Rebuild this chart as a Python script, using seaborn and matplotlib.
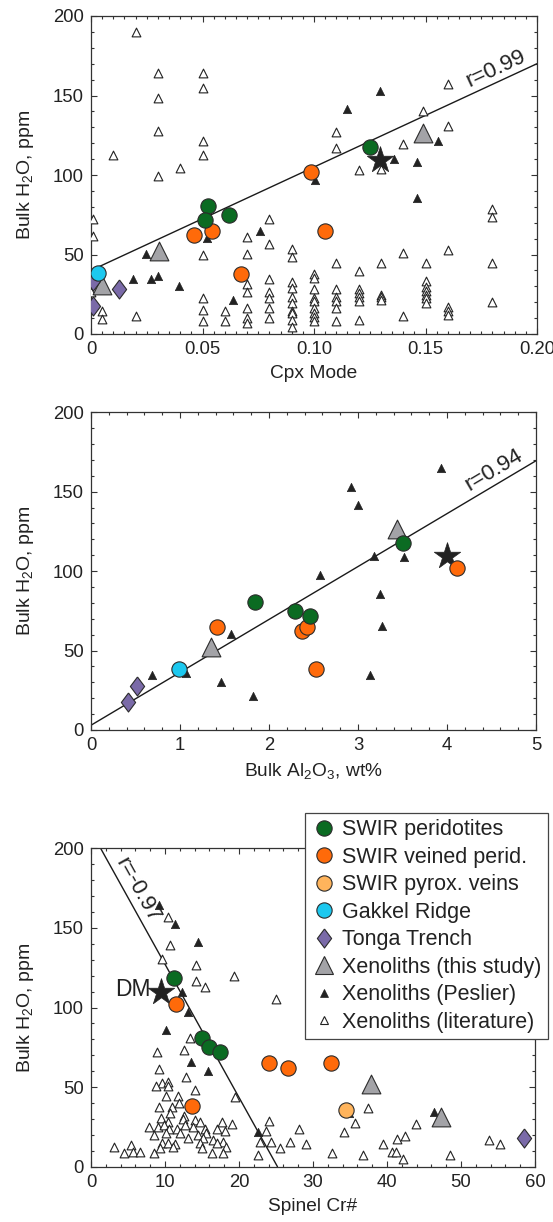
import matplotlib
matplotlib.use("Agg")
import matplotlib.pyplot as plt
from matplotlib.lines import Line2D
from matplotlib.ticker import MultipleLocator
import seaborn as sns

# ---- colours ----
GREEN = "#0b6b22"
ORANGE = "#ff6a0a"
LIGHT_ORANGE = "#ffb45c"
CYAN = "#1cc8ef"
PURPLE = "#7a6aa8"
GRAY = "#a3a3a7"
DARK = "#222222"
EDGE = "#2b2b2b"

# ================= Panel 1: Cpx mode =================
cpx_peridotite = [0.0523, 0.0618, 0.0511, 0.1253]
h2o_cpx_peridotite = [80.7, 75.0, 71.9, 117.8]
cpx_veined = [0.0542, 0.0464, 0.0673, 0.1051, 0.0986]
h2o_cpx_veined = [65.0, 62.3, 37.7, 65.0, 102.0]
cpx_gakkel = [0.003]
h2o_cpx_gakkel = [38.6]
cpx_tonga = [0.001, 0.0127, 0.0008]
h2o_cpx_tonga = [33.5, 28.1, 17.6]
cpx_thisstudy = [0.0306, 0.0048, 0.149]
h2o_cpx_thisstudy = [52.2, 30.8, 126.2]
cpx_dm = [0.1295]
h2o_cpx_dm = [109.4]
cpx_peslier = [0.1295, 0.1147, 0.1357, 0.1556, 0.146, 0.1004, 0.146, 0.0518,
               0.0757, 0.0246, 0.0187, 0.0267, 0.030, 0.0394, 0.0638]
h2o_cpx_peslier = [152.8, 141.5, 109.9, 121.6, 108.4, 96.9, 85.3, 60.2,
                   65.0, 50.3, 34.6, 34.6, 36.3, 30.2, 21.4]
cpx_lit = [0.02, 0.03, 0.05, 0.05, 0.03, 0.03, 0.05, 0.01, 0.05, 0.04, 0.03,
           0.16, 0.149, 0.16, 0.11, 0.11, 0.12, 0.14, 0.13,
           0.0007, 0.001, 0.05, 0.07, 0.07, 0.08, 0.08, 0.09, 0.09, 0.0, 0.005,
           0.005, 0.02, 0.05, 0.05, 0.05, 0.06, 0.06, 0.07, 0.07, 0.07, 0.07,
           0.07, 0.08, 0.08, 0.08, 0.08, 0.08,
           0.09, 0.09, 0.09, 0.09, 0.09, 0.09, 0.09, 0.09,
           0.10, 0.10, 0.10, 0.10, 0.10, 0.10, 0.10, 0.10, 0.10,
           0.11, 0.11, 0.11, 0.11, 0.11, 0.11,
           0.12, 0.12, 0.12, 0.12, 0.12, 0.12,
           0.13, 0.13, 0.13, 0.13,
           0.14, 0.14,
           0.15, 0.15, 0.15, 0.15, 0.15, 0.15, 0.15,
           0.16, 0.16, 0.16, 0.16,
           0.18, 0.18, 0.18, 0.18]
h2o_cpx_lit = [190, 164, 164, 154.5, 148.6, 127.7, 121.4, 112.6, 112.6, 104.6, 99.6,
               157, 140, 131, 127, 117, 103, 119.5, 104,
               72.3, 61.6, 49.5, 61.2, 50.3, 72.3, 56.4, 53.3, 48.2, 26.2, 14.5,
               9.4, 11.5, 22.4, 15.1, 8.4, 14.5, 8.4, 31.4, 26.2, 16.1, 9.9,
               6.8, 34.6, 26.4, 22.8, 16.1, 9.9,
               32.9, 28.7, 23.1, 19.3, 14.5, 13.0, 8.8, 4.6,
               37.5, 35.0, 28.3, 22.4, 20.8, 16.5, 13.4, 10.9, 8.2,
               44.5, 28.3, 23.5, 21.0, 16.5, 8.4,
               39.6, 28.3, 25.6, 23.1, 21.0, 8.8,
               44.5, 24.5, 23.1, 21.4,
               50.7, 11.5,
               44.5, 33.3, 29.5, 27.0, 24.8, 22.7, 19.6,
               52.8, 17.2, 14.7, 12.0,
               78.4, 73.4, 44.5, 20.3]
cpx_fit = [0.0, 0.2]
h2o_cpx_fit = [40.0, 170.0]

# ================= Panel 2: Bulk Al2O3 =================
al_peridotite = [1.843, 2.287, 2.456, 3.51]
h2o_al_peridotite = [80.7, 74.9, 71.9, 117.9]
al_veined = [1.42, 2.37, 2.43, 2.527, 4.116]
h2o_al_veined = [64.6, 62.3, 64.6, 38.2, 102.1]
al_gakkel = [0.988]
h2o_al_gakkel = [38.2]
al_tonga = [0.415, 0.516]
h2o_al_tonga = [17.8, 27.9]
al_thisstudy = [1.345, 3.44]
h2o_al_thisstudy = [52.0, 126.3]
al_dm = [4.0]
h2o_al_dm = [109.5]
al_peslier = [0.68, 1.07, 1.57, 1.457, 1.818, 2.574, 2.923, 2.998, 3.93,
              3.176, 3.515, 3.248, 3.274, 3.131]
h2o_al_peslier = [34.4, 36.1, 60.4, 30.4, 21.6, 97.5, 152.7, 141.6, 164.7,
                  109.7, 108.7, 85.6, 65.4, 34.6]
al_fit = [0.0, 5.0]
h2o_al_fit = [3.0, 169.5]

# ================= Panel 3: Spinel Cr# =================
cr_peridotite = [11.26, 14.96, 15.9, 17.4]
h2o_cr_peridotite = [118.5, 80.6, 75.0, 72.0]
cr_veined = [11.5, 13.7, 24.0, 26.6, 32.4]
h2o_cr_veined = [102.4, 38.1, 65.0, 61.8, 65.3]
cr_pyrox = [34.5]
h2o_cr_pyrox = [35.6]
cr_tonga = [58.5]
h2o_cr_tonga = [18.2]
cr_thisstudy = [37.8, 47.3]
h2o_cr_thisstudy = [52.0, 31.4]
cr_dm = [9.46]
h2o_cr_dm = [110.0]
cr_peslier = [9.19, 11.35, 14.4, 12.25, 13.15, 10.2, 13.5, 15.8, 22.5, 46.3, 34.9]
h2o_cr_peslier = [164.4, 152.2, 141.3, 109.5, 97.4, 85.9, 65.6, 60.3, 21.6, 34.6, 33.5]
cr_lit = [10.36, 10.68, 9.6, 14.2, 19.3, 14.2, 15.4, 25.0, 13.4, 12.6, 8.96, 9.2,
          12.9, 9.55, 10.36, 8.78, 10.45, 14.05, 10.1, 11.7, 19.5, 11.9, 10.9, 9.2,
          10.7, 12.6, 9.46, 10.4, 12.4, 14.1,
          7.9, 9.0, 9.8, 10.6, 11.6, 12.7, 13.8, 14.7, 15.4, 17.0, 17.7, 18.1, 19.1,
          8.56, 10.2, 12.0, 13.15, 14.5, 15.6, 15.2, 16.5, 17.9, 9.55, 10.45, 11.35,
          14.7, 17.0, 9.3, 11.1, 15.0, 18.3,
          3.15, 4.5, 5.4, 5.7, 6.6, 8.5, 16.3, 17.8, 22.5,
          23.7, 22.8, 24.1, 24.3, 37.4, 35.7, 43.9, 28.1, 34.2, 42.4, 41.4, 53.8,
          55.3, 25.6, 26.9, 29.1, 39.4, 32.6, 36.7, 40.7, 41.2, 42.2, 48.5]
h2o_cr_lit = [156.6, 139.3, 130.5, 126.7, 120.0, 116.8, 112.9, 105.5, 80.6, 73.3, 72.2, 61.2,
              56.5, 52.8, 53.4, 50.7, 50.7, 48.2, 44.4, 44.4, 44.0, 39.8, 37.3, 37.3,
              33.5, 31.8, 30.4, 28.3, 29.8, 29.3,
              24.7, 24.7, 26.2, 23.5, 23.5, 26.2, 24.7, 28.3, 23.5, 23.5, 28.3, 22.6, 26.6,
              19.9, 21.4, 21.4, 17.8, 19.9, 21.4, 17.8, 16.8, 15.7, 14.7, 14.7, 14.3,
              14.7, 15.1, 11.9, 12.6, 11.6, 12.2,
              12.6, 8.4, 13.6, 9.4, 9.4, 8.4, 8.4, 8.4, 7.3,
              22.6, 15.7, 28.9, 15.7, 36.7, 27.6, 26.6, 23.7, 21.8, 19.5, 17.4, 16.8,
              14.3, 11.9, 15.3, 14.3, 14.3, 8.4, 7.3, 9.4, 9.4, 4.6, 7.3]
cr_fit = [1.3, 25.2]
h2o_cr_fit = [200.0, 0.0]

legend_labels = ["SWIR peridotites", "SWIR veined perid.", "SWIR pyrox. veins",
                 "Gakkel Ridge", "Tonga Trench", "Xenoliths (this study)",
                 "Xenoliths (Peslier)", "Xenoliths (literature)"]

# ---- style ----
sns.set_style("ticks")
plt.rcParams["font.family"] = ["Liberation Sans", "DejaVu Sans"]
plt.rcParams["mathtext.default"] = "regular"
plt.rcParams["font.size"] = 13
plt.rcParams["text.color"] = "#222222"
plt.rcParams["axes.labelcolor"] = "#222222"
plt.rcParams["xtick.color"] = "#333333"
plt.rcParams["ytick.color"] = "#333333"
plt.rcParams["xtick.labelcolor"] = "#222222"
plt.rcParams["ytick.labelcolor"] = "#222222"

DIAMOND = [(0, 1), (0.75, 0), (0, -1), (-0.75, 0), (0, 1)]

# marker sizes (points)
MS_CIRCLE = 11
MS_TRI = 13.5
MS_SMALL = 6.0
MS_OPEN = 6.3
MS_DIAMOND = 13.7
MS_STAR = 20


def scatter(ax, x, y, marker, ms, face, edge=EDGE, lw=0.8, z=3):
    sns.scatterplot(x=x, y=y, ax=ax, marker=marker, s=ms ** 2, color=face,
                    edgecolor=edge, linewidth=lw, zorder=z, legend=False)


def fit_line(ax, x, y):
    sns.lineplot(x=x, y=y, ax=ax, color="#1a1a1a", linewidth=1.0, zorder=2)


def style_axes(ax, xlim, xticks, xticklabels, xminor, xlabel):
    ax.set_xlim(*xlim)
    ax.set_ylim(0, 200)
    ax.set_xticks(xticks)
    ax.set_xticklabels(xticklabels)
    ax.set_yticks([0, 50, 100, 150, 200])
    ax.set_yticklabels(["0", "50", "100", "150", "200"])
    ax.xaxis.set_minor_locator(MultipleLocator(xminor))
    ax.yaxis.set_minor_locator(MultipleLocator(10))
    ax.tick_params(which="both", direction="in", top=True, right=True,
                   labelsize=13.3, width=0.8)
    ax.tick_params(which="major", length=4, pad=5)
    ax.tick_params(which="minor", length=2.2)
    for sp in ax.spines.values():
        sp.set_color("#333333")
        sp.set_linewidth(0.9)
    ax.set_xlabel(xlabel, fontsize=13.8, labelpad=5)
    ax.set_ylabel("Bulk H$_2$O, ppm", fontsize=14, labelpad=12)


W, H = 553, 1222
fig = plt.figure(figsize=(W / 100, H / 100), dpi=100)


def add_axes(left, top, right, bottom):
    return fig.add_axes([left / W, 1 - bottom / H, (right - left) / W, (bottom - top) / H])


ax1 = add_axes(91, 16, 537, 334)
ax2 = add_axes(91, 412.3, 536, 730)
ax3 = add_axes(91, 848.3, 535, 1166.7)

# ---- panel 1 ----
fit_line(ax1, cpx_fit, h2o_cpx_fit)
scatter(ax1, cpx_lit, h2o_cpx_lit, "^", MS_OPEN, "white", edge=DARK, lw=0.8, z=3)
scatter(ax1, cpx_peslier, h2o_cpx_peslier, "^", MS_SMALL, DARK, edge=DARK, lw=0.5, z=4)
scatter(ax1, cpx_dm, h2o_cpx_dm, "*", MS_STAR, DARK, edge=DARK, lw=0.5, z=5)
scatter(ax1, cpx_thisstudy, h2o_cpx_thisstudy, "^", MS_TRI, GRAY, z=6)
scatter(ax1, cpx_tonga, h2o_cpx_tonga, DIAMOND, MS_DIAMOND, PURPLE, z=6)
scatter(ax1, cpx_gakkel, h2o_cpx_gakkel, "o", MS_CIRCLE, CYAN, z=6)
scatter(ax1, cpx_veined, h2o_cpx_veined, "o", MS_CIRCLE, ORANGE, z=7)
scatter(ax1, cpx_peridotite, h2o_cpx_peridotite, "o", MS_CIRCLE, GREEN, z=7)
style_axes(ax1, (0, 0.2), [0, 0.05, 0.10, 0.15, 0.20],
           ["0", "0.05", "0.10", "0.15", "0.20"], 0.005, "Cpx Mode")
ax1.text(0.1815, 167, "r=0.99", rotation=24.8, rotation_mode="anchor",
         ha="center", va="center", fontsize=16)

# ---- panel 2 ----
fit_line(ax2, al_fit, h2o_al_fit)
scatter(ax2, al_peslier, h2o_al_peslier, "^", MS_SMALL, DARK, edge=DARK, lw=0.5, z=4)
scatter(ax2, al_dm, h2o_al_dm, "*", MS_STAR, DARK, edge=DARK, lw=0.5, z=5)
scatter(ax2, al_thisstudy, h2o_al_thisstudy, "^", MS_TRI, GRAY, z=6)
scatter(ax2, al_tonga, h2o_al_tonga, DIAMOND, MS_DIAMOND, PURPLE, z=6)
scatter(ax2, al_gakkel, h2o_al_gakkel, "o", MS_CIRCLE, CYAN, z=6)
scatter(ax2, al_veined, h2o_al_veined, "o", MS_CIRCLE, ORANGE, z=7)
scatter(ax2, al_peridotite, h2o_al_peridotite, "o", MS_CIRCLE, GREEN, z=7)
style_axes(ax2, (0, 5), [0, 1, 2, 3, 4, 5], ["0", "1", "2", "3", "4", "5"], 0.2,
           "Bulk Al$_2$O$_3$, wt%")
ax2.text(4.53, 163.5, "r=0.94", rotation=30.7, rotation_mode="anchor",
         ha="center", va="center", fontsize=16)

# ---- panel 3 ----
fit_line(ax3, cr_fit, h2o_cr_fit)
scatter(ax3, cr_lit, h2o_cr_lit, "^", MS_OPEN, "white", edge=DARK, lw=0.8, z=3)
scatter(ax3, cr_peslier, h2o_cr_peslier, "^", MS_SMALL, DARK, edge=DARK, lw=0.5, z=4)
scatter(ax3, cr_dm, h2o_cr_dm, "*", MS_STAR, DARK, edge=DARK, lw=0.5, z=5)
scatter(ax3, cr_thisstudy, h2o_cr_thisstudy, "^", MS_TRI, GRAY, z=6)
scatter(ax3, cr_tonga, h2o_cr_tonga, DIAMOND, MS_DIAMOND, PURPLE, z=6)
scatter(ax3, cr_pyrox, h2o_cr_pyrox, "o", MS_CIRCLE, LIGHT_ORANGE, z=6)
scatter(ax3, cr_veined, h2o_cr_veined, "o", MS_CIRCLE, ORANGE, z=7)
scatter(ax3, cr_peridotite, h2o_cr_peridotite, "o", MS_CIRCLE, GREEN, z=7)
style_axes(ax3, (0, 60), [0, 10, 20, 30, 40, 50, 60],
           ["0", "10", "20", "30", "40", "50", "60"], 2, "Spinel Cr#")
ax3.text(6.3, 173.8, "r=-0.97", rotation=-60.9, rotation_mode="anchor",
         ha="center", va="center", fontsize=16)
ax3.text(8.0, 111, "DM", ha="right", va="center", fontsize=16.5)

handles = [
    Line2D([], [], ls="", marker="o", ms=MS_CIRCLE, mfc=GREEN, mec=EDGE, mew=0.8),
    Line2D([], [], ls="", marker="o", ms=MS_CIRCLE, mfc=ORANGE, mec=EDGE, mew=0.8),
    Line2D([], [], ls="", marker="o", ms=MS_CIRCLE, mfc=LIGHT_ORANGE, mec=EDGE, mew=0.8),
    Line2D([], [], ls="", marker="o", ms=MS_CIRCLE, mfc=CYAN, mec=EDGE, mew=0.8),
    Line2D([], [], ls="", marker=DIAMOND, ms=MS_DIAMOND, mfc=PURPLE, mec=EDGE, mew=0.8),
    Line2D([], [], ls="", marker="^", ms=MS_TRI, mfc=GRAY, mec=EDGE, mew=0.8),
    Line2D([], [], ls="", marker="^", ms=MS_SMALL, mfc=DARK, mec=DARK, mew=0.5),
    Line2D([], [], ls="", marker="^", ms=MS_OPEN, mfc="white", mec=DARK, mew=0.8),
]
leg = ax3.legend(handles, legend_labels, loc="upper left",
                 bbox_to_anchor=(0.482, 1.111), borderaxespad=0, fontsize=15.5,
                 frameon=True, fancybox=False, framealpha=1, edgecolor="#444444",
                 handlelength=1.2, handletextpad=0.22, labelspacing=0.3,
                 borderpad=0.3)
leg.get_frame().set_linewidth(0.9)
leg.set_zorder(10)

fig.savefig("out.png", dpi=100)
